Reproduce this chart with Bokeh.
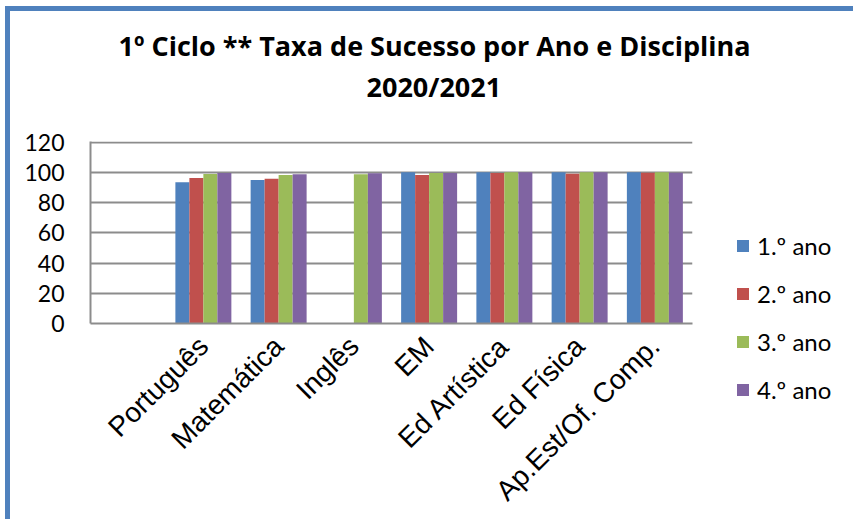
import math
from bokeh.plotting import figure
from bokeh.models import FactorRange, Range1d, Legend, LegendItem, ColumnDataSource, FixedTicker, Title
from bokeh.transform import dodge
from bokeh.embed import file_html
from bokeh.resources import INLINE

# ---- data ----
axis_factors = ["", "Português", "Matemática", "Inglês", "EM", "Ed Artística", "Ed Física", "Ap.Est/Of. Comp."]
subjects = ["Português", "Matemática", "Inglês", "EM", "Ed Artística", "Ed Física", "Ap.Est/Of. Comp."]
series_names = ["1.º ano", "2.º ano", "3.º ano", "4.º ano"]
ano1 = [93.5, 95.0, 0, 100, 100, 100, 100]
ano2 = [96.3, 95.8, 0, 98.2, 99.5, 99.0, 99.8]
ano3 = [98.9, 98.3, 98.7, 99.6, 100, 100, 100]
ano4 = [99.5, 98.8, 99.4, 99.6, 100, 100, 99.8]
y_ticks = [0, 20, 40, 60, 80, 100, 120]
title_line1 = "1º Ciclo ** Taxa de Sucesso por Ano e Disciplina"
title_line2 = "2020/2021"

colors = ["#4F81BD", "#C0504D", "#9BBB59", "#8064A2"]

src = ColumnDataSource(dict(subject=subjects, a1=ano1, a2=ano2, a3=ano3, a4=ano4))

p = figure(
    x_range=FactorRange(factors=axis_factors, range_padding=0),
    y_range=Range1d(0, 120.4),
    frame_width=602, frame_height=182, title=None,
    output_backend="svg", toolbar_location=None,
    min_border_left=80, min_border_right=158, min_border_top=130, min_border_bottom=190,
)
p.styles = {"margin-left": "5px", "margin-top": "6px",
            "border-left": "5px solid #4F81BD", "border-top": "5px solid #4F81BD"}

t2 = Title(text=title_line2, align="left", offset=276, text_font="Open Sans",
           text_font_style="bold", text_font_size="27px", text_color="#000000", standoff=73)
t1 = Title(text=title_line1, align="left", offset=28, text_font="Open Sans",
           text_font_style="bold", text_font_size="27px", text_color="#000000", standoff=-69)
p.add_layout(t2, "above")
p.add_layout(t1, "above")

bw = 0.186
offsets = [-1.5 * bw, -0.5 * bw, 0.5 * bw, 1.5 * bw]
cols = ["a1", "a2", "a3", "a4"]
renderers = []
for c, off, col in zip(cols, offsets, colors):
    r = p.vbar(x=dodge("subject", off, range=p.x_range), top=c, width=bw, source=src,
               fill_color=col, line_color=None)
    renderers.append(r)

p.outline_line_color = None
p.xgrid.grid_line_color = None
p.ygrid.grid_line_color = "#8C8C8C"
p.ygrid.grid_line_width = 2

p.yaxis.ticker = FixedTicker(ticks=y_ticks)
p.yaxis.axis_line_color = "#8C8C8C"
p.yaxis.axis_line_width = 2
p.yaxis.major_tick_line_color = None
p.yaxis.minor_tick_line_color = None
p.yaxis.major_tick_out = 0
p.yaxis.major_label_standoff = 26
p.yaxis.major_label_text_font = "Lato"
p.yaxis.major_label_text_font_size = "23px"
p.yaxis.major_label_text_color = "#000000"

p.xaxis.axis_line_color = "#8C8C8C"
p.xaxis.axis_line_width = 2
p.xaxis.major_tick_line_color = None
p.xaxis.major_tick_out = 0
p.xaxis.major_label_orientation = math.pi / 4
p.xaxis.major_label_standoff = 18
p.xaxis.major_label_text_font = "Liberation Sans"
p.xaxis.major_label_text_font_size = "28px"
p.xaxis.major_label_text_color = "#000000"

legend = Legend(
    items=[LegendItem(label=n, renderers=[r]) for n, r in zip(series_names, renderers)],
    location=(43, -81),
    glyph_width=15, glyph_height=15, label_height=20, spacing=19,
    label_standoff=7, padding=0, margin=0,
    border_line_color=None, background_fill_alpha=0,
    label_text_font="Lato", label_text_font_size="24px", label_text_color="#000000",
)
p.add_layout(legend, "right")

open("out.html", "w").write(file_html(p, INLINE))
